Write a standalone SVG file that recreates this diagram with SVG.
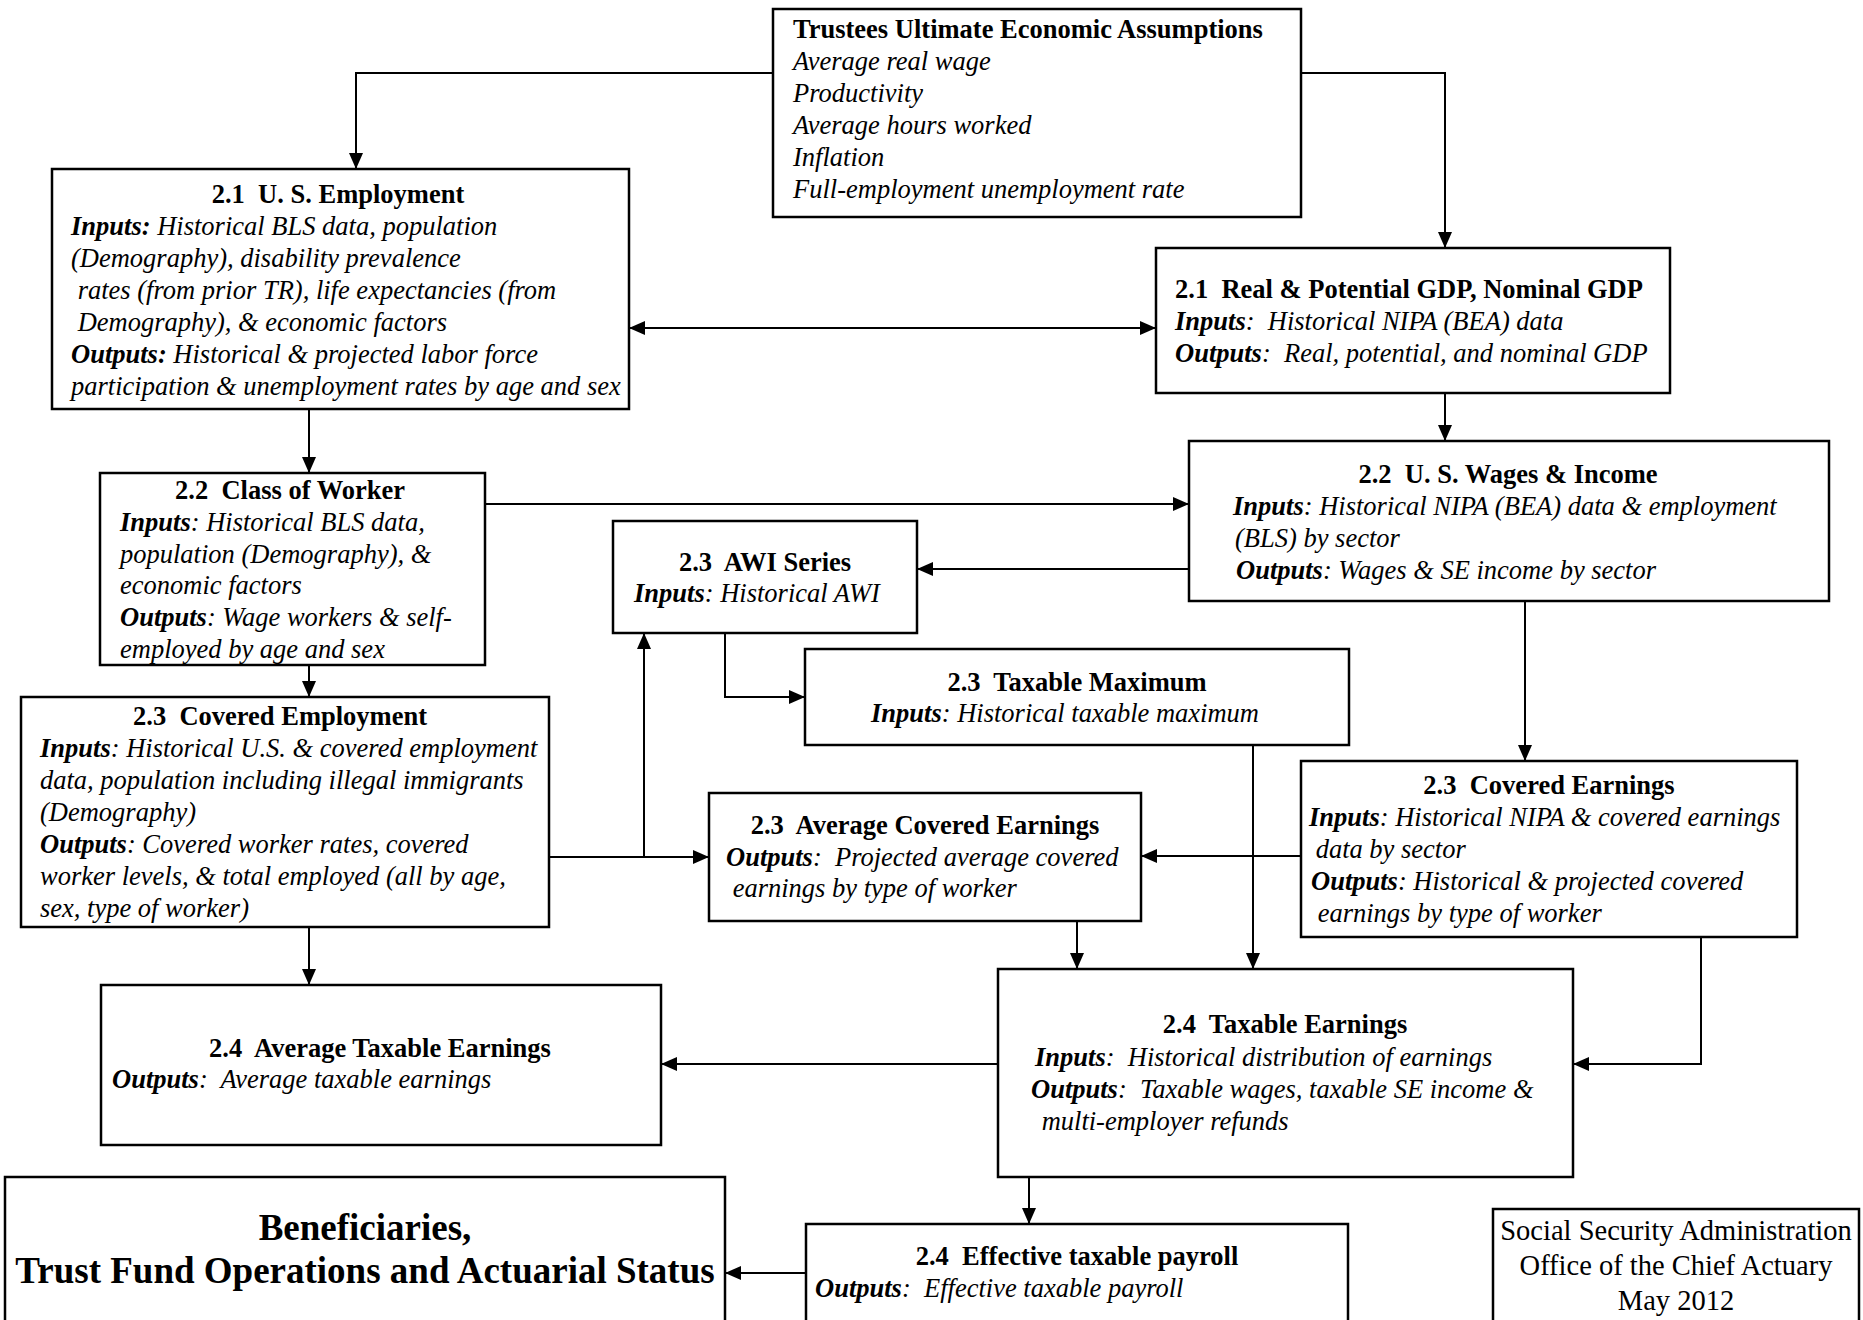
<svg xmlns="http://www.w3.org/2000/svg" width="1863" height="1320" viewBox="0 0 1863 1320" xml:space="preserve">
<defs>
<style>
.box{fill:#fff;stroke:#000;stroke-width:2.5}
.t{font-family:"Liberation Serif","Times New Roman",serif;font-size:26.5px;fill:#000;white-space:pre}
.b{font-weight:bold}
.i{font-style:italic}
.c{text-anchor:middle}
.big{font-size:37px}
.ssa{font-size:28.5px}
#connectors path{fill:none;stroke:#000;stroke-width:2}
</style>
<marker id="ah" viewBox="0 0 16 14" refX="16" refY="7" markerWidth="16" markerHeight="14" orient="auto-start-reverse" markerUnits="userSpaceOnUse"><path d="M0,0 L16,7 L0,14 z" fill="#000"/></marker>
</defs>
<rect width="1863" height="1320" fill="#fff"/>

<g id="connectors">
<path d="M773,73 H356 V169" marker-end="url(#ah)"/>
<path d="M1301,73 H1445 V248" marker-end="url(#ah)"/>
<path d="M629,328 H1156" marker-start="url(#ah)" marker-end="url(#ah)"/>
<path d="M309,409 V473" marker-end="url(#ah)"/>
<path d="M1445,393 V441" marker-end="url(#ah)"/>
<path d="M485,504 H1189" marker-end="url(#ah)"/>
<path d="M1189,569 H917" marker-end="url(#ah)"/>
<path d="M309,665 V697" marker-end="url(#ah)"/>
<path d="M549,857 H709" marker-end="url(#ah)"/>
<path d="M644,857 V633" marker-end="url(#ah)"/>
<path d="M725,633 V697 H805" marker-end="url(#ah)"/>
<path d="M1525,601 V761" marker-end="url(#ah)"/>
<path d="M1301,856 H1141" marker-end="url(#ah)"/>
<path d="M1253,745 V969" marker-end="url(#ah)"/>
<path d="M1077,921 V969" marker-end="url(#ah)"/>
<path d="M1701,937 V1064 H1573" marker-end="url(#ah)"/>
<path d="M309,927 V985" marker-end="url(#ah)"/>
<path d="M998,1064 H661" marker-end="url(#ah)"/>
<path d="M1029,1177 V1224" marker-end="url(#ah)"/>
<path d="M806,1273 H725" marker-end="url(#ah)"/>
</g>

<g id="trustees">
<rect class="box" x="773" y="9" width="528" height="208"/>
<text class="t b" x="793" y="38">Trustees Ultimate Economic Assumptions</text>
<text class="t i" x="793" y="70">Average real wage</text>
<text class="t i" x="793" y="102">Productivity</text>
<text class="t i" x="793" y="134">Average hours worked</text>
<text class="t i" x="793" y="166">Inflation</text>
<text class="t i" x="793" y="198">Full-employment unemployment rate</text>
</g>

<g id="us-employment">
<rect class="box" x="52" y="169" width="577" height="240"/>
<text class="t b c" x="338" y="203">2.1  U. S. Employment</text>
<text class="t i" x="71" y="235"><tspan class="b">Inputs:</tspan> Historical BLS data, population</text>
<text class="t i" x="71" y="267">(Demography), disability prevalence</text>
<text class="t i" x="71" y="299"> rates (from prior TR), life expectancies (from</text>
<text class="t i" x="71" y="331"> Demography), &amp; economic factors</text>
<text class="t i" x="71" y="363"><tspan class="b">Outputs:</tspan> Historical &amp; projected labor force</text>
<text class="t i" x="71" y="395">participation &amp; unemployment rates by age and sex</text>
</g>

<g id="real-gdp">
<rect class="box" x="1156" y="248" width="514" height="145"/>
<text class="t b" x="1175" y="298">2.1  Real &amp; Potential GDP, Nominal GDP</text>
<text class="t i" x="1175" y="330"><tspan class="b">Inputs</tspan>:  Historical NIPA (BEA) data</text>
<text class="t i" x="1175" y="362"><tspan class="b">Outputs</tspan>:  Real, potential, and nominal GDP</text>
</g>

<g id="class-of-worker">
<rect class="box" x="100" y="473" width="385" height="192"/>
<text class="t b c" x="290" y="499">2.2  Class of Worker</text>
<text class="t i" x="120" y="531"><tspan class="b">Inputs</tspan>: Historical BLS data,</text>
<text class="t i" x="120" y="563">population (Demography), &amp;</text>
<text class="t i" x="120" y="594">economic factors</text>
<text class="t i" x="120" y="626"><tspan class="b">Outputs</tspan>: Wage workers &amp; self-</text>
<text class="t i" x="120" y="658">employed by age and sex</text>
</g>

<g id="wages-income">
<rect class="box" x="1189" y="441" width="640" height="160"/>
<text class="t b c" x="1508" y="483">2.2  U. S. Wages &amp; Income</text>
<text class="t i" x="1233" y="515"><tspan class="b">Inputs</tspan>: Historical NIPA (BEA) data &amp; employment</text>
<text class="t i" x="1235" y="547">(BLS) by sector</text>
<text class="t i" x="1236" y="579"><tspan class="b">Outputs</tspan>: Wages &amp; SE income by sector</text>
</g>

<g id="awi-series">
<rect class="box" x="613" y="521" width="304" height="112"/>
<text class="t b c" x="765" y="571">2.3  AWI Series</text>
<text class="t i" x="634" y="602"><tspan class="b">Inputs</tspan>: Historical AWI</text>
</g>

<g id="taxable-maximum">
<rect class="box" x="805" y="649" width="544" height="96"/>
<text class="t b c" x="1077" y="691">2.3  Taxable Maximum</text>
<text class="t i" x="871" y="722"><tspan class="b">Inputs</tspan>: Historical taxable maximum</text>
</g>

<g id="covered-employment">
<rect class="box" x="21" y="697" width="528" height="230"/>
<text class="t b c" x="280" y="725">2.3  Covered Employment</text>
<text class="t i" x="40" y="757"><tspan class="b">Inputs</tspan>: Historical U.S. &amp; covered employment</text>
<text class="t i" x="40" y="789">data, population including illegal immigrants</text>
<text class="t i" x="40" y="821">(Demography)</text>
<text class="t i" x="40" y="853"><tspan class="b">Outputs</tspan>: Covered worker rates, covered</text>
<text class="t i" x="40" y="885">worker levels, &amp; total employed (all by age,</text>
<text class="t i" x="40" y="917">sex, type of worker)</text>
</g>

<g id="avg-covered-earnings">
<rect class="box" x="709" y="793" width="432" height="128"/>
<text class="t b c" x="925" y="834">2.3  Average Covered Earnings</text>
<text class="t i" x="726" y="866"><tspan class="b">Outputs</tspan>:  Projected average covered</text>
<text class="t i" x="726" y="897"> earnings by type of worker</text>
</g>

<g id="covered-earnings">
<rect class="box" x="1301" y="761" width="496" height="176"/>
<text class="t b c" x="1549" y="794">2.3  Covered Earnings</text>
<text class="t i" x="1309" y="826"><tspan class="b">Inputs</tspan>: Historical NIPA &amp; covered earnings</text>
<text class="t i" x="1309" y="858"> data by sector</text>
<text class="t i" x="1311" y="890"><tspan class="b">Outputs</tspan>: Historical &amp; projected covered</text>
<text class="t i" x="1311" y="922"> earnings by type of worker</text>
</g>

<g id="taxable-earnings">
<rect class="box" x="998" y="969" width="575" height="208"/>
<text class="t b c" x="1285" y="1033">2.4  Taxable Earnings</text>
<text class="t i" x="1035" y="1066"><tspan class="b">Inputs</tspan>:  Historical distribution of earnings</text>
<text class="t i" x="1031" y="1098"><tspan class="b">Outputs</tspan>:  Taxable wages, taxable SE income &amp;</text>
<text class="t i" x="1035" y="1130"> multi-employer refunds</text>
</g>

<g id="avg-taxable-earnings">
<rect class="box" x="101" y="985" width="560" height="160"/>
<text class="t b c" x="380" y="1057">2.4  Average Taxable Earnings</text>
<text class="t i" x="112" y="1088"><tspan class="b">Outputs</tspan>:  Average taxable earnings</text>
</g>

<g id="effective-taxable-payroll">
<rect class="box" x="806" y="1224" width="542" height="120"/>
<text class="t b c" x="1077" y="1265">2.4  Effective taxable payroll</text>
<text class="t i" x="815" y="1297"><tspan class="b">Outputs</tspan>:  Effective taxable payroll</text>
</g>

<g id="beneficiaries">
<rect class="box" x="5" y="1177" width="720" height="170"/>
<text class="t b c big" x="365" y="1240">Beneficiaries,</text>
<text class="t b c big" x="365" y="1283">Trust Fund Operations and Actuarial Status</text>
</g>

<g id="ssa-credit">
<rect class="box" x="1493" y="1209" width="366" height="140"/>
<text class="t c ssa" x="1676" y="1240">Social Security Administration</text>
<text class="t c ssa" x="1676" y="1275">Office of the Chief Actuary</text>
<text class="t c ssa" x="1676" y="1310">May 2012</text>
</g>
</svg>
